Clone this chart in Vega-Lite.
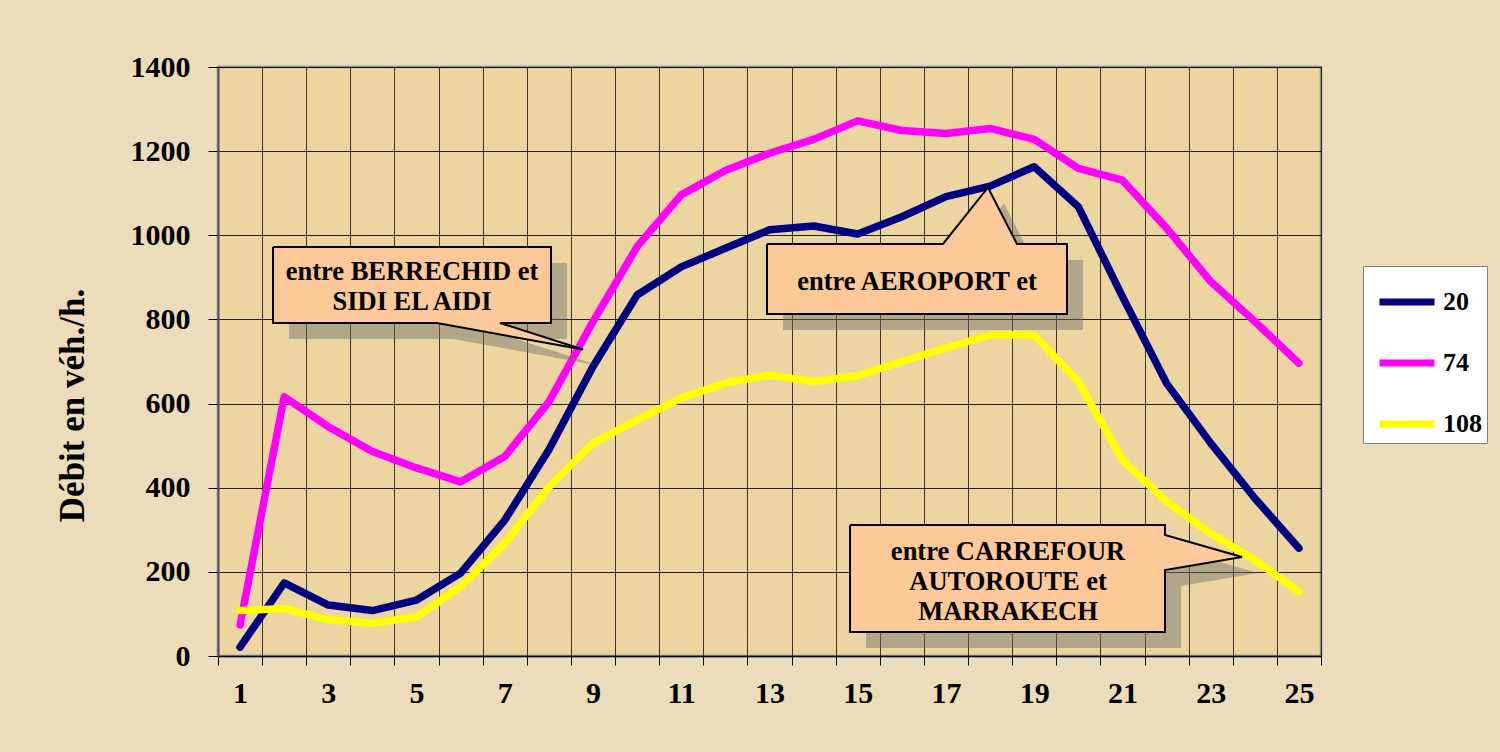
{
  "$schema": "https://vega.github.io/schema/vega-lite/v6.json",
  "width": 1103,
  "height": 589,
  "autosize": {"type": "none"},
  "padding": {"left": 218, "top": 67, "right": 179, "bottom": 96},
  "background": "#ecdcba",
  "config": {
    "view": {"fill": "#ecd5a0", "stroke": "#8a8a8a", "strokeWidth": 2.5},
    "font": "Liberation Serif"
  },
  "datasets": {
    "flows": [
      {"k": 1, "series": "20", "v": 21}, {"k": 2, "series": "20", "v": 174}, {"k": 3, "series": "20", "v": 121}, {"k": 4, "series": "20", "v": 108}, {"k": 5, "series": "20", "v": 133},
      {"k": 6, "series": "20", "v": 197}, {"k": 7, "series": "20", "v": 323}, {"k": 8, "series": "20", "v": 490}, {"k": 9, "series": "20", "v": 688}, {"k": 10, "series": "20", "v": 858},
      {"k": 11, "series": "20", "v": 925}, {"k": 12, "series": "20", "v": 969}, {"k": 13, "series": "20", "v": 1013}, {"k": 14, "series": "20", "v": 1022}, {"k": 15, "series": "20", "v": 1003},
      {"k": 16, "series": "20", "v": 1044}, {"k": 17, "series": "20", "v": 1092}, {"k": 18, "series": "20", "v": 1117}, {"k": 19, "series": "20", "v": 1163}, {"k": 20, "series": "20", "v": 1068},
      {"k": 21, "series": "20", "v": 854}, {"k": 22, "series": "20", "v": 648}, {"k": 23, "series": "20", "v": 506}, {"k": 24, "series": "20", "v": 375}, {"k": 25, "series": "20", "v": 256},
      {"k": 1, "series": "74", "v": 74}, {"k": 2, "series": "74", "v": 616}, {"k": 3, "series": "74", "v": 545}, {"k": 4, "series": "74", "v": 486}, {"k": 5, "series": "74", "v": 447},
      {"k": 6, "series": "74", "v": 414}, {"k": 7, "series": "74", "v": 474}, {"k": 8, "series": "74", "v": 604}, {"k": 9, "series": "74", "v": 795}, {"k": 10, "series": "74", "v": 973},
      {"k": 11, "series": "74", "v": 1096}, {"k": 12, "series": "74", "v": 1154}, {"k": 13, "series": "74", "v": 1195}, {"k": 14, "series": "74", "v": 1228}, {"k": 15, "series": "74", "v": 1272},
      {"k": 16, "series": "74", "v": 1249}, {"k": 17, "series": "74", "v": 1242}, {"k": 18, "series": "74", "v": 1254}, {"k": 19, "series": "74", "v": 1228}, {"k": 20, "series": "74", "v": 1159},
      {"k": 21, "series": "74", "v": 1131}, {"k": 22, "series": "74", "v": 1017}, {"k": 23, "series": "74", "v": 890}, {"k": 24, "series": "74", "v": 795}, {"k": 25, "series": "74", "v": 696},
      {"k": 1, "series": "108", "v": 108}, {"k": 2, "series": "108", "v": 113}, {"k": 3, "series": "108", "v": 86}, {"k": 4, "series": "108", "v": 78}, {"k": 5, "series": "108", "v": 93},
      {"k": 6, "series": "108", "v": 165}, {"k": 7, "series": "108", "v": 268}, {"k": 8, "series": "108", "v": 402}, {"k": 9, "series": "108", "v": 506}, {"k": 10, "series": "108", "v": 561},
      {"k": 11, "series": "108", "v": 613}, {"k": 12, "series": "108", "v": 649}, {"k": 13, "series": "108", "v": 668}, {"k": 14, "series": "108", "v": 652}, {"k": 15, "series": "108", "v": 666},
      {"k": 16, "series": "108", "v": 700}, {"k": 17, "series": "108", "v": 732}, {"k": 18, "series": "108", "v": 763}, {"k": 19, "series": "108", "v": 763}, {"k": 20, "series": "108", "v": 652},
      {"k": 21, "series": "108", "v": 466}, {"k": 22, "series": "108", "v": 367}, {"k": 23, "series": "108", "v": 291}, {"k": 24, "series": "108", "v": 228}, {"k": 25, "series": "108", "v": 153}
    ],
    "callouts": [
      {"id": "a", "i": 1, "x": 1.747, "y": 972}, {"id": "a", "i": 2, "x": 8.048, "y": 972}, {"id": "a", "i": 3, "x": 8.048, "y": 791.5},
      {"id": "a", "i": 4, "x": 6.892, "y": 791.5}, {"id": "a", "i": 5, "x": 8.773, "y": 728.5}, {"id": "a", "i": 6, "x": 5.464, "y": 791.5},
      {"id": "a", "i": 7, "x": 1.747, "y": 791.5}, {"id": "a", "i": 8, "x": 1.747, "y": 972},
      {"id": "b", "i": 1, "x": 12.943, "y": 979.3}, {"id": "b", "i": 2, "x": 16.932, "y": 979.3}, {"id": "b", "i": 3, "x": 17.952, "y": 1113.6},
      {"id": "b", "i": 4, "x": 18.61, "y": 979.3}, {"id": "b", "i": 5, "x": 19.743, "y": 979.3}, {"id": "b", "i": 6, "x": 19.743, "y": 812.9},
      {"id": "b", "i": 7, "x": 12.943, "y": 812.9}, {"id": "b", "i": 8, "x": 12.943, "y": 979.3},
      {"id": "c", "i": 1, "x": 14.825, "y": 311.4}, {"id": "c", "i": 2, "x": 21.964, "y": 311.4}, {"id": "c", "i": 3, "x": 21.964, "y": 287.6},
      {"id": "c", "i": 4, "x": 23.709, "y": 235.3}, {"id": "c", "i": 5, "x": 21.964, "y": 204.4}, {"id": "c", "i": 6, "x": 21.964, "y": 57},
      {"id": "c", "i": 7, "x": 14.825, "y": 57}, {"id": "c", "i": 8, "x": 14.825, "y": 311.4}
    ],
    "notes": [
      {"x": 4.897, "y": 913, "text": ["entre BERRECHID et", "SIDI EL AIDI"]},
      {"x": 16.343, "y": 890, "text": ["entre AEROPORT et"]},
      {"x": 18.406, "y": 248, "text": ["entre CARREFOUR", "AUTOROUTE et", "MARRAKECH"]}
    ]
  },
  "layer": [
    {
      "data": {"name": "flows"},
      "mark": {"type": "line", "strokeWidth": 7.5, "strokeCap": "round", "strokeJoin": "round"},
      "encoding": {
        "x": {
          "field": "k", "type": "quantitative",
          "scale": {"domain": [0.5, 25.5], "nice": false, "zero": false},
          "axis": {
            "values": [0.5, 1.5, 2.5, 3.5, 4.5, 5.5, 6.5, 7.5, 8.5, 9.5, 10.5, 11.5, 12.5, 13.5, 14.5, 15.5, 16.5, 17.5, 18.5, 19.5, 20.5, 21.5, 22.5, 23.5, 24.5, 25.5],
            "labelExpr": "(datum.value + 0.5) % 2 == 1 ? format(datum.value + 0.5, 'd') : ''",
            "labelOffset": 22,
            "labelOverlap": false,
            "labelBound": false,
            "labelFlush": false,
            "labelFont": "Liberation Serif",
            "labelFontWeight": "bold",
            "labelFontSize": 30,
            "labelColor": "#000000",
            "labelBaseline": "middle",
            "labelPadding": 28,
            "tickSize": 9,
            "tickColor": "#000000",
            "tickWidth": 1,
            "domainColor": "#000000",
            "domainWidth": 1.5,
            "grid": true,
            "gridColor": "#000000",
            "gridOpacity": 0.75,
            "gridWidth": 1,
            "title": null
          }
        },
        "y": {
          "field": "v", "type": "quantitative",
          "scale": {"domain": [0, 1400], "nice": false},
          "axis": {
            "values": [0, 200, 400, 600, 800, 1000, 1200, 1400],
            "format": "d",
            "labelFont": "Liberation Serif",
            "labelFontWeight": "bold",
            "labelFontSize": 30,
            "labelColor": "#000000",
            "labelPadding": 18,
            "tickSize": 10,
            "tickColor": "#000000",
            "domainColor": "#555555",
            "domainWidth": 2,
            "grid": true,
            "gridColor": "#000000",
            "gridOpacity": 0.85,
            "gridWidth": 1,
            "title": "Débit en véh./h.",
            "titleFont": "Liberation Serif",
            "titleFontWeight": "bold",
            "titleFontSize": 35,
            "titleColor": "#000000",
            "titleAngle": -90,
            "titleAlign": "center",
            "titleBaseline": "middle",
            "titleX": -146,
            "titleY": 338
          }
        },
        "color": {
          "field": "series", "type": "nominal",
          "scale": {"domain": ["20", "74", "108"], "range": ["#000080", "#ff00ff", "#ffff00"]},
          "legend": {
            "title": null,
            "orient": "none",
            "legendX": 1145,
            "legendY": 199,
            "symbolType": "stroke",
            "symbolSize": 3025,
            "symbolStrokeWidth": 7,
            "symbolOffset": 8,
            "labelFont": "Liberation Serif",
            "labelFontWeight": "bold",
            "labelFontSize": 26,
            "labelColor": "#000000",
            "labelOffset": 5,
            "rowPadding": 16,
            "padding": 5,
            "fillColor": "#ffffff",
            "strokeColor": "#808080"
          }
        }
      }
    },
    {
      "data": {"name": "callouts"},
      "mark": {"type": "line", "fill": "#6e6e6e", "fillOpacity": 0.45, "strokeOpacity": 0, "xOffset": 16, "yOffset": 16},
      "encoding": {
        "x": {"field": "x", "type": "quantitative"},
        "y": {"field": "y", "type": "quantitative"},
        "detail": {"field": "id"},
        "order": {"field": "i", "type": "quantitative"}
      }
    },
    {
      "data": {"name": "callouts"},
      "mark": {"type": "line", "fill": "#fdc999", "fillOpacity": 1, "stroke": "#000000", "strokeWidth": 2},
      "encoding": {
        "x": {"field": "x", "type": "quantitative"},
        "y": {"field": "y", "type": "quantitative"},
        "detail": {"field": "id"},
        "order": {"field": "i", "type": "quantitative"}
      }
    },
    {
      "data": {"name": "notes"},
      "mark": {"type": "text", "font": "Liberation Serif", "fontWeight": "bold", "fontSize": 26.5, "lineHeight": 30, "align": "center", "baseline": "middle", "color": "#000000"},
      "encoding": {
        "x": {"field": "x", "type": "quantitative"},
        "y": {"field": "y", "type": "quantitative"},
        "text": {"field": "text"}
      }
    }
  ]
}
